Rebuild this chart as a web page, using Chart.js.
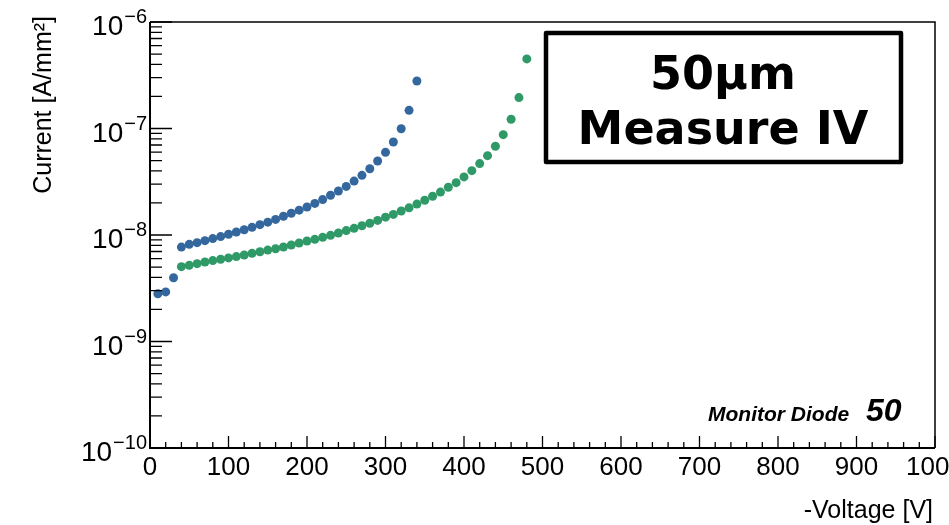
<!DOCTYPE html>
<html>
<head>
<meta charset="utf-8">
<script src="https://cdn.jsdelivr.net/npm/chart.js@4.4.1/dist/chart.umd.min.js"></script>
<style>
  html, body { margin: 0; padding: 0; background: #fff; overflow: hidden; }
  #iv-chart { display: block; }
</style>
</head>
<body>
<canvas id="iv-chart" width="949" height="525"></canvas>
<script>
// -Voltage [V] and current density [A/mm2]
var voltsBlue = [10, 20, 30, 40, 50, 60, 70, 80, 90, 100, 110, 120, 130, 140, 150, 160, 170,
  180, 190, 200, 210, 220, 230, 240, 250, 260, 270, 280, 290, 300, 310, 320, 330, 340];
var currentBlue = [2.81e-9, 2.92e-9, 3.97e-9, 7.7e-9, 8.17e-9, 8.47e-9, 8.85e-9, 9.25e-9, 9.66e-9,
  1.016e-8, 1.067e-8, 1.12e-8, 1.18e-8, 1.25e-8, 1.32e-8, 1.40e-8, 1.50e-8, 1.60e-8, 1.71e-8,
  1.83e-8, 1.98e-8, 2.15e-8, 2.36e-8, 2.59e-8, 2.86e-8, 3.21e-8, 3.63e-8, 4.19e-8, 4.95e-8,
  5.97e-8, 7.46e-8, 9.95e-8, 1.48e-7, 2.79e-7];

var voltsGreen = [40, 50, 60, 70, 80, 90, 100, 110, 120, 130, 140, 150, 160, 170, 180, 190, 200,
  210, 220, 230, 240, 250, 260, 270, 280, 290, 300, 310, 320, 330, 340, 350, 360, 370, 380, 390,
  400, 410, 420, 430, 440, 450, 460, 470, 480];
var currentGreen = [5.04e-9, 5.19e-9, 5.38e-9, 5.58e-9, 5.75e-9, 5.92e-9, 6.09e-9, 6.27e-9, 6.49e-9,
  6.73e-9, 6.97e-9, 7.22e-9, 7.43e-9, 7.71e-9, 8.05e-9, 8.41e-9, 8.79e-9, 9.10e-9, 9.51e-9,
  9.93e-9, 1.044e-8, 1.10e-8, 1.155e-8, 1.22e-8, 1.29e-8, 1.37e-8, 1.47e-8, 1.56e-8, 1.68e-8,
  1.80e-8, 1.95e-8, 2.12e-8, 2.31e-8, 2.53e-8, 2.81e-8, 3.10e-8, 3.51e-8, 4.02e-8, 4.68e-8,
  5.56e-8, 6.81e-8, 8.75e-8, 1.22e-7, 1.95e-7, 4.50e-7];

var xTicks = [0, 100, 200, 300, 400, 500, 600, 700, 800, 900, 1000];
var yExponents = [-10, -9, -8, -7, -6];

var boxLines = ["50\u00b5m", "Measure IV"];
var tagText = "Monitor Diode";
var tagNumber = "50";
var xTitle = "-Voltage [V]";
var yTitle = "Current [A/mm\u00b2]";

function toPoints(xs, ys) {
  return xs.map(function(x, i) { return { x: x, y: ys[i] }; });
}

var framePlugin = {
  id: 'rootFrame',
  afterDraw: function(chart) {
    var ctx = chart.ctx;
    var a = chart.chartArea;
    var xs = chart.scales.x;
    var ys = chart.scales.y;
    ctx.save();
    ctx.strokeStyle = '#000';
    ctx.fillStyle = '#000';

    // frame
    ctx.lineWidth = 1.5;
    ctx.beginPath();
    ctx.moveTo(a.left, a.top); ctx.lineTo(a.right, a.top); ctx.lineTo(a.right, a.bottom);
    ctx.stroke();
    ctx.lineWidth = 2;
    ctx.beginPath();
    ctx.moveTo(a.left, a.top); ctx.lineTo(a.left, a.bottom); ctx.lineTo(a.right, a.bottom);
    ctx.stroke();

    // x ticks (inward)
    ctx.lineWidth = 1.3;
    ctx.beginPath();
    for (var v = 0; v <= 1000; v += 20) {
      var px = xs.getPixelForValue(v);
      var len = (v % 100 === 0) ? 12 : 6;
      ctx.moveTo(px, a.bottom); ctx.lineTo(px, a.bottom - len);
    }
    // y ticks (inward, log)
    yExponents.forEach(function(e) {
      var py = ys.getPixelForValue(Math.pow(10, e));
      ctx.moveTo(a.left, py); ctx.lineTo(a.left + 22, py);
      if (e < -6) {
        for (var k = 2; k <= 9; k++) {
          var pm = ys.getPixelForValue(k * Math.pow(10, e));
          ctx.moveTo(a.left, pm); ctx.lineTo(a.left + 12, pm);
        }
      }
    });
    ctx.stroke();

    // x tick labels
    ctx.font = '26px "Liberation Sans", Arial, sans-serif';
    ctx.textAlign = 'center';
    ctx.textBaseline = 'middle';
    xTicks.forEach(function(t) {
      ctx.fillText(String(t), xs.getPixelForValue(t), a.bottom + 20);
    });

    // y tick labels: 10 with superscript exponent
    yExponents.forEach(function(e) {
      var py = ys.getPixelForValue(Math.pow(10, e));
      var expo = '\u2212' + String(-e);
      ctx.font = '20px "Liberation Sans", Arial, sans-serif';
      ctx.textAlign = 'right';
      ctx.textBaseline = 'alphabetic';
      var right = 147;
      ctx.fillText(expo, right, py + 1);
      var ew = ctx.measureText(expo).width;
      ctx.font = '28px "Liberation Sans", Arial, sans-serif';
      ctx.fillText('10', right - ew - 1, py + 13);
    });

    // axis titles
    ctx.font = '25px "Liberation Sans", Arial, sans-serif';
    ctx.textAlign = 'right';
    ctx.textBaseline = 'alphabetic';
    ctx.fillText(xTitle, a.right - 2, 518);
    ctx.save();
    ctx.translate(51, 16);
    ctx.rotate(-Math.PI / 2);
    ctx.fillText(yTitle, 0, 0);
    ctx.restore();

    // label box
    ctx.lineWidth = 4.5;
    ctx.lineJoin = 'round';
    ctx.strokeRect(546, 33, 355, 129);
    ctx.font = 'bold 46px "DejaVu Sans", Verdana, sans-serif';
    ctx.textAlign = 'center';
    ctx.fillText(boxLines[0], 723, 89);
    ctx.fillText(boxLines[1], 723, 144);

    // monitor diode tag
    ctx.textAlign = 'left';
    ctx.font = 'italic bold 21px "Liberation Sans", Arial, sans-serif';
    ctx.fillText(tagText, 708, 421);
    ctx.font = 'italic bold 32px "Liberation Sans", Arial, sans-serif';
    ctx.fillText(tagNumber, 866, 421);
    ctx.restore();
  }
};

new Chart(document.getElementById('iv-chart').getContext('2d'), {
  type: 'scatter',
  data: {
    datasets: [
      {
        label: 'blue',
        data: toPoints(voltsBlue, currentBlue),
        backgroundColor: '#33679d',
        borderWidth: 0,
        pointRadius: 4.5
      },
      {
        label: 'green',
        data: toPoints(voltsGreen, currentGreen),
        backgroundColor: '#2f9a68',
        borderWidth: 0,
        pointRadius: 4.5
      }
    ]
  },
  options: {
    responsive: false,
    animation: false,
    events: [],
    layout: { padding: { left: 150, top: 22, right: 14, bottom: 77 } },
    plugins: { legend: { display: false }, tooltip: { enabled: false } },
    scales: {
      x: { type: 'linear', min: 0, max: 1000, display: false },
      y: { type: 'logarithmic', min: 1e-10, max: 1e-6, display: false }
    }
  },
  plugins: [framePlugin]
});
</script>
</body>
</html>
